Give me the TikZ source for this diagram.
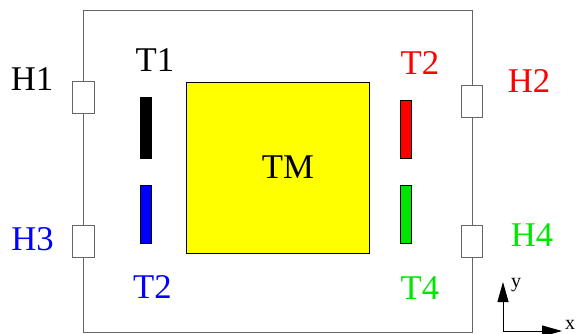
\documentclass[tikz,border=0pt]{standalone}
\usepackage{fontspec}
\setmainfont{Liberation Serif}
\usetikzlibrary{arrows.meta}
\definecolor{tmyellow}{RGB}{255,255,0}
\definecolor{tgreen}{RGB}{0,230,0}

\begin{document}
\begin{tikzpicture}[x=1pt,y=-1pt,
		lbl/.style={font=\fontsize{34.7}{40}\selectfont, inner sep=0pt},
		axlbl/.style={font=\fontsize{20}{24}\selectfont, inner sep=0pt},
		port/.style={draw=black!60, fill=white, line width=1pt},
		bar/.style={draw=black, line width=0.8pt}]
			\useasboundingbox (0,0) rectangle (578,334);
			% корпус
			\draw[black!60, line width=1pt] (83,11) rectangle (472,332);
			% окна
			\draw[port] (72,82) rectangle (94,114);
			\draw[port] (72,225) rectangle (94,257);
			\draw[port] (461,86) rectangle (482,118);
			\draw[port] (461,225) rectangle (482,257);
			% TM
			\draw[fill=tmyellow, line width=0.8pt] (186,82) rectangle (369,253);
			\node[lbl] (tm) at (288,167) {TM};
			% датчики
			\draw[bar, fill=black] (140,97) rectangle (151,158);
			\draw[bar, fill=blue] (140,185) rectangle (151,243);
			\draw[bar, fill=red] (400,100) rectangle (411,158);
			\draw[bar, fill=tgreen] (400,185) rectangle (411,243);
			% подписи
			\node[lbl] (h1) at (32,79) {H1};
			\node[lbl, blue] (h3) at (32.5,239) {H3};
			\node[lbl, red] (h2) at (529,81) {H2};
			\node[lbl, tgreen] (h4) at (532,235) {H4};
			\node[lbl] (t1) at (155,60) {T1};
			\node[lbl, blue] (t2b) at (152.5,287) {T2};
			\node[lbl, red] (t2r) at (420,63) {T2};
			\node[lbl, tgreen] (t4) at (420,288) {T4};
			% оси
			\coordinate (o) at (503,331);
			\coordinate (ey) at (503,282);
			\coordinate (ex) at (562,331);
			\draw[-{Triangle[length=20pt,width=11pt]}, line width=1pt] (o) -- (ey);
			\draw[-{Triangle[length=20pt,width=11pt]}, line width=1pt] (o) -- (ex);
			\node[axlbl, anchor=base west] (ly) at (511,287) {y};
			\node[axlbl, anchor=base west] (lx) at (565,329) {x};
		\end{tikzpicture}
\end{document}
